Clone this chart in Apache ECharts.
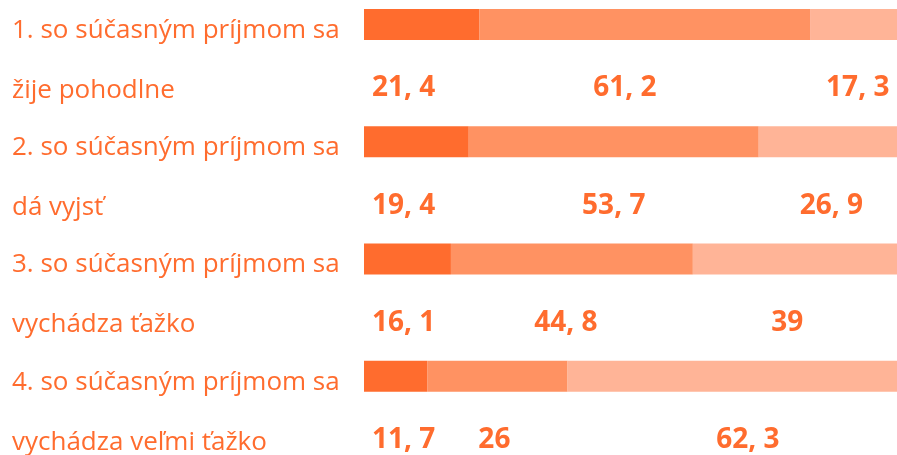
<!DOCTYPE html>
<html>
<head>
<meta charset="utf-8">
<script src="https://cdn.jsdelivr.net/npm/echarts@6/dist/echarts.min.js"></script>
<style>
  html, body { margin: 0; padding: 0; background: #ffffff; }
  #chart { width: 897px; height: 455px; }
</style>
</head>
<body>
<div id="chart"></div>
<script>
// Question rows: first line of the statement, second line of the statement
const rowLead = [
  '1. so súčasným príjmom sa',
  '2. so súčasným príjmom sa',
  '3. so súčasným príjmom sa',
  '4. so súčasným príjmom sa'
];
const rowTail = [
  'žije pohodlne',
  'dá vyjsť',
  'vychádza ťažko',
  'vychádza veľmi ťažko'
];
// Shares of respondents (%) in each of the three answer groups
const partA = [21.4, 19.4, 16.1, 11.7];
const partB = [61.2, 53.7, 44.8, 26];
const partC = [17.3, 26.9, 39, 62.3];

// Horizontal nudges (px) for the value captions under the middle and last segments
const captionShiftB = [-20, 0, -6, -3];
const captionShiftC = [1, 0, -11, 12];

const orange = '#ff6c2e';
const shades = ['#ff6c2e', '#ff9262', '#ffb497'];
const fontFamily = '"Open Sans", "Noto Sans", sans-serif';

const fmt = v => String(v).replace('.', ', ');

const chart = echarts.init(document.getElementById('chart'), null, { renderer: 'canvas' });

function segment(name, values, idx, shifts) {
  const label = idx === 0
    ? { show: true, position: 'insideLeft', distance: 8, offset: [0, 64] }
    : { show: true, position: 'inside', offset: [0, 64] };
  return {
    name: name,
    type: 'bar',
    stack: 'total',
    barWidth: 31,
    data: values.map((v, i) => shifts
      ? { value: v, label: { offset: [shifts[i], 64] } }
      : v),
    itemStyle: { color: shades[idx] },
    label: Object.assign(label, {
      color: orange,
      fontFamily: fontFamily,
      fontWeight: 'bold',
      fontSize: 28,
      formatter: p => fmt(p.value)
    }),
    emphasis: { disabled: true },
    silent: true,
    animation: false
  };
}

chart.setOption({
  backgroundColor: '#ffffff',
  animation: false,
  grid: {
    left: 364, width: 540, top: -34.2, height: 469.2,
    containLabel: false,
    outerBoundsMode: 'none'
  },
  xAxis: {
    type: 'value', min: 0, max: 100,
    show: false
  },
  yAxis: {
    type: 'category',
    inverse: true,
    data: rowLead.map((t, i) => i),
    axisLine: { show: false },
    axisTick: { show: false },
    splitLine: { show: false },
    axisLabel: {
      show: true,
      align: 'left',
      verticalAlign: 'top',
      margin: 352,
      hideOverlap: false,
      formatter: v => '{a|' + rowLead[v] + '}\n{b|' + rowTail[v] + '}',
      rich: {
        a: { fontFamily: fontFamily, fontSize: 26, color: orange, lineHeight: 12 },
        b: { fontFamily: fontFamily, fontSize: 26, color: orange, lineHeight: 108 }
      }
    }
  },
  series: [
    segment('A', partA, 0, null),
    segment('B', partB, 1, captionShiftB),
    segment('C', partC, 2, captionShiftC)
  ]
});
</script>
</body>
</html>
